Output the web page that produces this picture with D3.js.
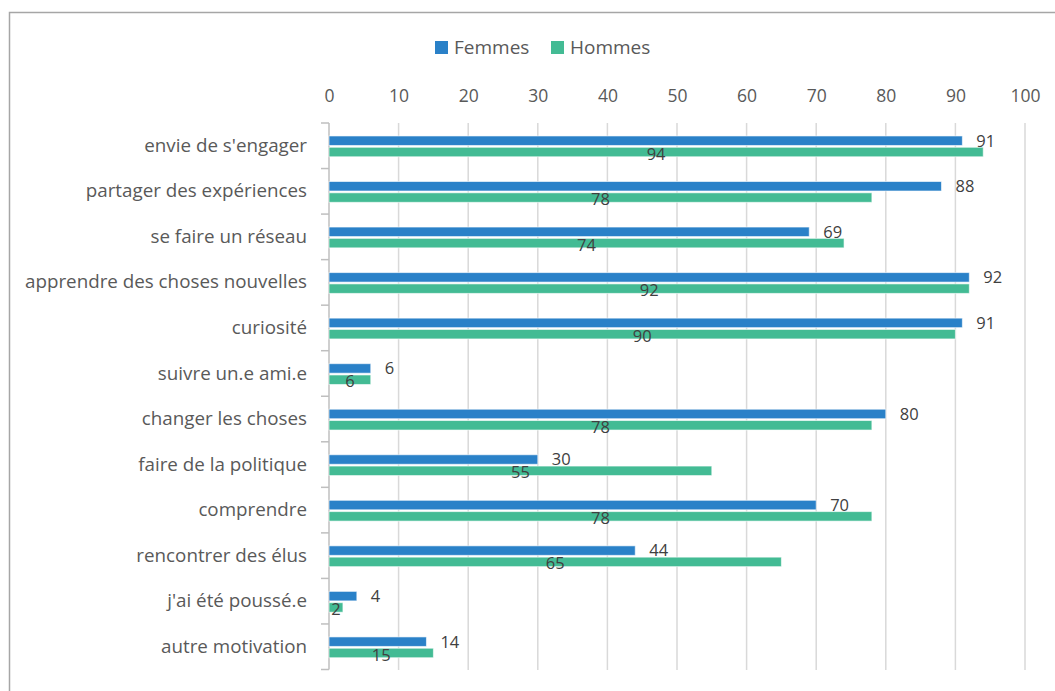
<!DOCTYPE html>
<html>
<head>
<meta charset="utf-8">
<script src="https://cdn.jsdelivr.net/npm/d3@7"></script>
<style>
  html, body { margin: 0; padding: 0; background: #fff; }
  svg { display: block; }
</style>
</head>
<body>
<svg id="chart" width="1055" height="691"></svg>
<script>
const categories = [
  "envie de s'engager",
  "partager des expériences",
  "se faire un réseau",
  "apprendre des choses nouvelles",
  "curiosité",
  "suivre un.e ami.e",
  "changer les choses",
  "faire de la politique",
  "comprendre",
  "rencontrer des élus",
  "j'ai été poussé.e",
  "autre motivation"
];
const femmes = [91, 88, 69, 92, 91, 6, 80, 30, 70, 44, 4, 14];
const hommes = [94, 78, 74, 92, 90, 6, 78, 55, 78, 65, 2, 15];
const seriesNames = ["Femmes", "Hommes"];
const xTicks = [0, 10, 20, 30, 40, 50, 60, 70, 80, 90, 100];

const colors = { Femmes: "#2a81c8", Hommes: "#43bb94" };
const FONT = "'Open Sans', 'Noto Sans', sans-serif";

const svg = d3.select("#chart");

// outer frame (cut off at right and bottom)
svg.append("rect")
  .attr("x", 9.5).attr("y", 12.5)
  .attr("width", 1200).attr("height", 900)
  .attr("fill", "none")
  .attr("stroke", "#a6a6a6")
  .attr("stroke-width", 1.5);

const x = d3.scaleLinear().domain([0, 100]).range([329, 1025]);
const y = d3.scaleBand().domain(categories).range([123, 669.5]).paddingInner(0).paddingOuter(0);

// gridlines
svg.append("g").selectAll("line")
  .data(xTicks.filter(t => t > 0))
  .join("line")
  .attr("x1", d => x(d)).attr("x2", d => x(d))
  .attr("y1", 123).attr("y2", 670)
  .attr("stroke", "#d9d9d9")
  .attr("stroke-width", 1.5);

// top axis tick labels
const xAxis = d3.axisTop(x).tickValues(xTicks).tickSize(0).tickPadding(0);
const gx = svg.append("g").attr("transform", "translate(0,102)").call(xAxis);
gx.select(".domain").remove();
gx.selectAll("text")
  .attr("font-family", FONT)
  .attr("font-size", 17.5)
  .attr("fill", "#595959")
  .attr("dy", "0");

// left category axis
const yAxis = d3.axisLeft(y).tickSize(0).tickPadding(22);
const gy = svg.append("g").attr("transform", "translate(329,0)").call(yAxis);
gy.select(".domain").remove();
gy.selectAll("text")
  .attr("font-family", FONT)
  .attr("font-size", 18.8)
  .attr("fill", "#595959");

// category axis line + boundary ticks
const bounds = categories.map(c => y(c)).concat([y.range()[1]]);
svg.append("line")
  .attr("x1", 329).attr("x2", 329)
  .attr("y1", 123).attr("y2", 669.5)
  .attr("stroke", "#bfbfbf").attr("stroke-width", 1.5);
svg.append("g").selectAll("line")
  .data(bounds)
  .join("line")
  .attr("x1", 321).attr("x2", 329)
  .attr("y1", d => d).attr("y2", d => d)
  .attr("stroke", "#bfbfbf").attr("stroke-width", 1.5);

// bars
const barH = 9.5;
const rows = categories.map((c, i) => ({ c, f: femmes[i], h: hommes[i] }));
const gBars = svg.append("g");
rows.forEach(r => {
  const cy = y(r.c) + y.bandwidth() / 2;
  gBars.append("rect")
    .attr("x", x(0)).attr("y", cy - 9.8)
    .attr("width", x(r.f) - x(0)).attr("height", barH)
    .attr("fill", colors.Femmes)
    .attr("stroke", "rgba(255,255,255,0.6)").attr("stroke-width", 1);
  gBars.append("rect")
    .attr("x", x(0)).attr("y", cy + 1.5)
    .attr("width", x(r.h) - x(0)).attr("height", barH)
    .attr("fill", colors.Hommes)
    .attr("stroke", "rgba(255,255,255,0.6)").attr("stroke-width", 1);
  // labels
  svg.append("text")
    .attr("x", x(r.f) + 14)
    .attr("y", cy - 5)
    .attr("dy", "0.35em")
    .attr("font-family", FONT)
    .attr("font-size", 16.5)
    .attr("fill", "#404040")
    .text(r.f);
  svg.append("text")
    .attr("x", (x(0) + x(r.h)) / 2)
    .attr("y", cy + 8)
    .attr("dy", "0.35em")
    .attr("text-anchor", "middle")
    .attr("font-family", FONT)
    .attr("font-size", 16.5)
    .attr("fill", "#404040")
    .text(r.h);
});

// legend
const legendX = [435, 551];
const lg = svg.append("g");
seriesNames.forEach((s, i) => {
  lg.append("rect")
    .attr("x", legendX[i]).attr("y", 41)
    .attr("width", 13).attr("height", 13)
    .attr("fill", colors[s]);
  lg.append("text")
    .attr("x", legendX[i] + 19).attr("y", 47.5)
    .attr("dy", "0.35em")
    .attr("font-family", FONT)
    .attr("font-size", 19)
    .attr("fill", "#595959")
    .text(s);
});
</script>
</body>
</html>
